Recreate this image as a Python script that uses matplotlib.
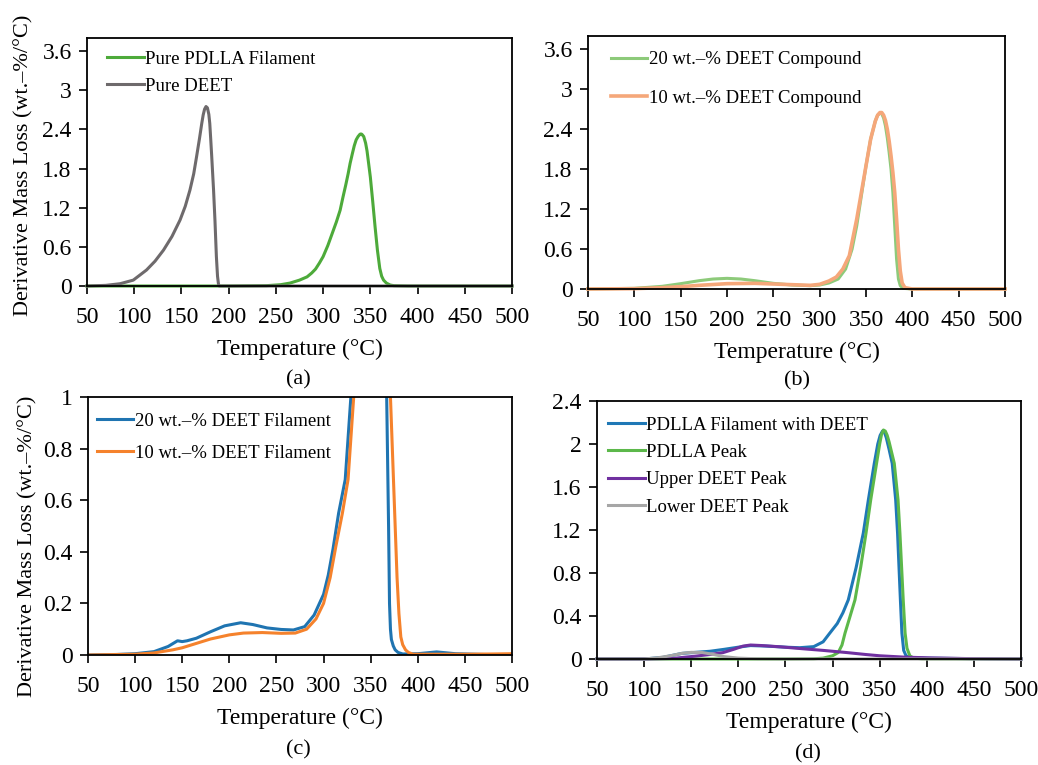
import matplotlib
matplotlib.use("Agg")
import matplotlib.pyplot as plt

plt.rcParams['font.family'] = ['Liberation Serif', 'DejaVu Serif']

# (a) pure materials
t_deet = [50, 70, 85, 99, 113, 122, 131, 140, 148.5, 154, 159, 163, 166, 169, 171.5, 173, 174.5,
          176, 177.5, 179, 180, 181, 182, 184, 185.5, 187, 188.2, 189.2, 190, 200, 300, 500]
v_deet = [0, 0.01, 0.035, 0.09, 0.245, 0.38, 0.55, 0.76, 1.01, 1.22, 1.47, 1.72, 1.98, 2.25, 2.49, 2.62, 2.71,
          2.75, 2.73, 2.63, 2.49, 2.25, 2.0, 1.47, 1.0, 0.45, 0.15, 0.03, 0, 0, 0, 0]
t_pdlla = [50, 200, 240, 255, 265, 275, 283, 288, 292, 296, 300, 305, 309, 314, 318, 321, 324, 326.5,
           328.6, 331, 333, 335, 337, 339, 340, 341, 343, 345, 346.5, 348, 350, 352.5, 355, 357.5, 360,
           362, 364, 367, 371, 375, 390, 500]
v_pdlla = [0, 0, 0.005, 0.02, 0.045, 0.09, 0.14, 0.2, 0.26, 0.35, 0.45, 0.62, 0.78, 0.98, 1.16, 1.36, 1.55, 1.72,
           1.88, 2.03, 2.15, 2.24, 2.29, 2.325, 2.33, 2.325, 2.29, 2.19, 2.07, 1.9, 1.67, 1.3, 0.91, 0.55, 0.27,
           0.15, 0.09, 0.045, 0.015, 0.005, 0, 0]

# (b) compounds
t_c20 = [50, 100, 130, 150, 170, 185, 200, 215, 230, 250, 270, 290, 300, 310, 320, 328, 335, 340, 345,
         350, 355, 360, 362.5, 365, 367, 369, 371, 373, 375, 377, 379, 381, 383, 385, 387, 390, 400, 500]
v_c20 = [0, 0.01, 0.04, 0.08, 0.125, 0.15, 0.16, 0.15, 0.125, 0.085, 0.06, 0.05, 0.06, 0.09, 0.15, 0.3,
         0.6, 0.95, 1.4, 1.85, 2.25, 2.52, 2.61, 2.64, 2.63, 2.57, 2.45, 2.27, 2.05, 1.8, 1.45, 0.95, 0.45,
         0.15, 0.05, 0.01, 0, 0]
t_c10 = [50, 100, 130, 150, 170, 200, 230, 260, 290, 300, 310, 318, 325, 332, 340, 345, 350, 355, 360,
         362.5, 365, 367, 369, 371, 373, 375, 377, 379, 381, 383, 385, 387, 389, 392, 400, 500]
v_c10 = [0, 0.005, 0.02, 0.035, 0.055, 0.08, 0.085, 0.07, 0.055, 0.07, 0.12, 0.18, 0.3, 0.5, 1.05, 1.45,
         1.85, 2.25, 2.52, 2.61, 2.65, 2.65, 2.61, 2.53, 2.4, 2.22, 2.0, 1.75, 1.45, 1.05, 0.6, 0.27, 0.09,
         0.02, 0, 0]

# (c) filaments (zoomed)
t_f20 = [50, 80, 100, 120, 135, 145, 150, 155, 165, 180, 195, 212, 225, 240, 255, 268, 280, 290, 300,
         305, 310, 316, 323, 329, 335, 345, 353, 360, 365, 367, 369, 370, 371, 372, 374, 376, 379, 384,
         400, 420, 440, 470, 500]
v_f20 = [0, 0.002, 0.005, 0.013, 0.033, 0.055, 0.052, 0.055, 0.065, 0.09, 0.113, 0.125, 0.118, 0.105, 0.099,
         0.097, 0.11, 0.155, 0.235, 0.31, 0.41, 0.55, 0.68, 1.0, 1.5, 2.0, 2.12, 1.9, 1.3, 1.0, 0.5, 0.2, 0.1,
         0.06, 0.035, 0.02, 0.01, 0.004, 0.005, 0.012, 0.005, 0.002, 0]
t_f10 = [50, 100, 120, 140, 150, 165, 180, 200, 215, 235, 255, 270, 282, 292, 300, 307, 313, 320, 326,
         332, 340, 350, 357, 364, 369, 371, 375, 378, 380, 382, 384, 387, 390, 395, 450, 480, 500]
v_f10 = [0, 0.003, 0.008, 0.02, 0.028, 0.045, 0.062, 0.078, 0.085, 0.087, 0.084, 0.085, 0.1, 0.14, 0.2,
         0.3, 0.42, 0.55, 0.68, 1.0, 1.6, 2.1, 2.2, 1.9, 1.3, 1.0, 0.6, 0.3, 0.16, 0.07, 0.04, 0.02, 0.01,
         0.003, 0.003, 0.004, 0.005]

# (d) peak separation
t_fil = [50, 100, 120, 140, 155, 170, 185, 200, 213, 230, 250, 265, 280, 290, 297, 305, 311, 316.7, 325,
         332.6, 338, 344.3, 348, 350.5, 353, 355, 357, 360, 363.3, 367, 369, 372, 373.6, 375.5, 378, 382,
         400, 450, 500]
v_fil = [0, 0, 0.015, 0.052, 0.062, 0.072, 0.09, 0.11, 0.125, 0.12, 0.11, 0.105, 0.115, 0.16, 0.24, 0.33,
         0.43, 0.55, 0.85, 1.17, 1.48, 1.82, 2.0, 2.08, 2.12, 2.11, 2.06, 1.95, 1.82, 1.48, 1.17, 0.55, 0.24,
         0.08, 0.03, 0.015, 0.008, 0.003, 0]
t_pk = [50, 250, 280, 290, 300, 306, 310, 313.2, 318, 323.8, 330, 335.5, 340.5, 346.7, 350, 352, 354,
        356, 358, 360, 365.5, 369.5, 371.5, 375, 377, 379, 382, 386, 395, 500]
v_pk = [0, 0, 0.002, 0.008, 0.03, 0.06, 0.13, 0.24, 0.38, 0.55, 0.86, 1.17, 1.48, 1.82, 2.0, 2.09, 2.13,
        2.12, 2.08, 2.02, 1.82, 1.48, 1.17, 0.55, 0.24, 0.1, 0.03, 0.008, 0.002, 0]
t_up = [50, 100, 130, 156, 170, 184, 195, 205, 213, 225, 245, 262, 290, 315, 335, 350, 375, 404, 450, 500]
v_up = [0, 0, 0.005, 0.028, 0.042, 0.06, 0.09, 0.12, 0.13, 0.125, 0.113, 0.1, 0.08, 0.06, 0.042, 0.03,
        0.018, 0.01, 0.003, 0]
t_lo = [50, 100, 115, 128, 140, 150, 162, 172, 185, 200, 220, 250, 500]
v_lo = [0, 0, 0.012, 0.03, 0.052, 0.062, 0.06, 0.045, 0.022, 0.008, 0.002, 0, 0]

xticks = list(range(50, 501, 50))
ylabel = 'Derivative Mass Loss (wt.\u2013%/\u00b0C)'
xlabel = 'Temperature (\u00b0C)'

W, H = 1038, 765
fig = plt.figure(figsize=(W / 100, H / 100), dpi=100)


def make_axes(l, r, t, b):
    return fig.add_axes([l / W, 1 - b / H, (r - l) / W, (b - t) / H])


def style(ax, ylim, yticks, ylabels):
    ax.set_xlim(50, 500)
    ax.set_ylim(*ylim)
    ax.set_xticks(xticks)
    ax.set_yticks(yticks)
    ax.set_yticklabels(ylabels)
    ax.tick_params(direction='out', length=6, width=1.2, labelsize=17, color='black')
    ax.tick_params(axis='x', pad=9)
    ax.tick_params(axis='y', pad=5)
    for s in ax.spines.values():
        s.set_linewidth(1.3)
    ax.set_xlabel(xlabel, fontsize=17, labelpad=8)


def legend(ax, x, y, spacing):
    ax.legend(loc='upper left', bbox_to_anchor=(x, y), frameon=False, fontsize=13.5,
              handlelength=1.95, handletextpad=0.1, labelspacing=spacing, borderaxespad=0,
              borderpad=0)


lw = 2.2

ax = make_axes(87, 512, 38, 286)
ax.plot(t_pdlla, v_pdlla, color='#4daa3a', lw=lw, label='Pure PDLLA Filament', clip_on=False)
ax.plot(t_deet, v_deet, color='#6e6a6c', lw=lw, label='Pure DEET', clip_on=False)
style(ax, (0, 3.8), [0, 0.6, 1.2, 1.8, 2.4, 3.0, 3.6], ['0', '0.6', '1.2', '1.8', '2.4', '3', '3.6'])
ax.set_ylabel(ylabel, fontsize=16)
ax.yaxis.set_label_coords(-0.125, 0.485)
legend(ax, 0.047, 0.95, 0.55)

ax = make_axes(588, 1005, 36, 289)
ax.plot(t_c20, v_c20, color='#8dca7a', lw=lw, label='20 wt.\u2013% DEET Compound', clip_on=False)
ax.plot(t_c10, v_c10, color='#f5a77a', lw=lw + 0.4, label='10 wt.\u2013% DEET Compound', clip_on=False)
style(ax, (0, 3.8), [0, 0.6, 1.2, 1.8, 2.4, 3.0, 3.6], ['0', '0.6', '1.2', '1.8', '2.4', '3', '3.6'])
legend(ax, 0.055, 0.94, 1.15)

ax = make_axes(88, 512, 397, 655)
ax.plot(t_f20, v_f20, color='#1f74b1', lw=lw, label='20 wt.\u2013% DEET Filament')
ax.plot(t_f10, v_f10, color='#f5822c', lw=lw, label='10 wt.\u2013% DEET Filament')
style(ax, (0, 1), [0, 0.2, 0.4, 0.6, 0.8, 1.0], ['0', '0.2', '0.4', '0.6', '0.8', '1'])
ax.set_ylabel(ylabel, fontsize=16)
ax.yaxis.set_label_coords(-0.118, 0.42)
legend(ax, 0.021, 0.94, 0.8)

ax = make_axes(597, 1021, 401, 659)
ax.plot(t_fil, v_fil, color='#1f78b6', lw=lw, label='PDLLA Filament with DEET', clip_on=False)
ax.plot(t_pk, v_pk, color='#5cb84a', lw=lw, label='PDLLA Peak', clip_on=False)
ax.plot(t_up, v_up, color='#7030a0', lw=lw, label='Upper DEET Peak', clip_on=False)
ax.plot(t_lo, v_lo, color='#a6a6a6', lw=lw, label='Lower DEET Peak', clip_on=False)
style(ax, (0, 2.4), [0, 0.4, 0.8, 1.2, 1.6, 2.0, 2.4], ['0', '0.4', '0.8', '1.2', '1.6', '2', '2.4'])
legend(ax, 0.026, 0.94, 0.55)

for lab, x, y in [('(a)', 298, 380), ('(b)', 797, 381), ('(c)', 298, 750), ('(d)', 808, 754)]:
    fig.text(x / W, 1 - y / H, lab, fontsize=16, ha='center', va='center')

fig.savefig('out.png', dpi=100)
